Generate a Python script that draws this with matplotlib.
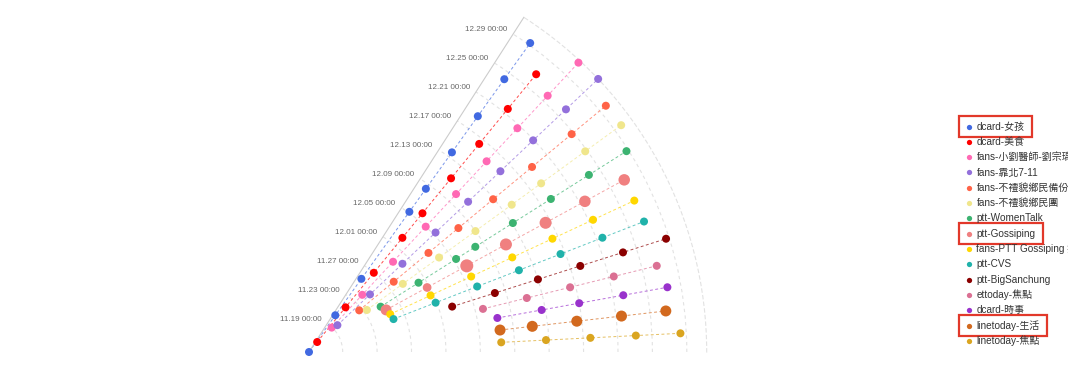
import matplotlib
matplotlib.use("Agg")
import matplotlib.pyplot as plt
import matplotlib.dates as mdates
from matplotlib.lines import Line2D
from matplotlib.patches import Rectangle
from matplotlib.transforms import offset_copy
import numpy as np
import pandas as pd

plt.rcParams['font.family'] = ['Liberation Sans', 'Noto Sans CJK TC', 'DejaVu Sans']

# 各看板 / 粉專
names = ["dcard-女孩", "dcard-美食", "fans-小劉醫師-劉宗瑀", "fans-靠北7-11",
         "fans-不禮貌鄉民備份團", "fans-不禮貌鄉民團", "ptt-WomenTalk", "ptt-Gossiping",
         "fans-PTT Gossiping 批踢踢八卦板", "ptt-CVS", "ptt-BigSanchung", "ettoday-焦點",
         "dcard-時事", "linetoday-生活", "linetoday-焦點"]
colors = ["#4169E1", "#FF0000", "#FF69B4", "#9370DB", "#FF6347", "#F0E68C", "#3CB371",
          "#F08080", "#FFD700", "#20B2AA", "#8B0000", "#DB7093", "#9932CC", "#D2691E",
          "#DAA520"]

# 每個來源的發文時間
dcard_girl = ["2019-11-15 02:00", "2019-11-20 08:00", "2019-11-25 13:00", "2019-12-05 03:00",
              "2019-12-08 10:00", "2019-12-13 15:00", "2019-12-18 19:00", "2019-12-24 02:00",
              "2019-12-29 06:00"]
dcard_food = ["2019-11-16 14:00", "2019-11-21 19:00", "2019-11-26 23:30", "2019-12-02 05:30",
              "2019-12-05 22:00", "2019-12-11 04:00", "2019-12-16 08:00", "2019-12-21 14:00",
              "2019-12-26 19:00"]
fans_doctor = ["2019-11-18 23:00", "2019-11-24 04:00", "2019-11-29 10:00", "2019-12-04 23:45",
               "2019-12-10 04:00", "2019-12-15 09:00", "2019-12-20 15:00", "2019-12-25 19:00",
               "2019-12-31 01:00"]
fans_711 = ["2019-11-19 15:00", "2019-11-24 20:00", "2019-11-30 00:30", "2019-12-05 07:30",
            "2019-12-10 12:30", "2019-12-15 16:30", "2019-12-20 22:00", "2019-12-26 04:00",
            "2019-12-31 07:30"]
fans_rude_backup = ["2019-11-22 16:00", "2019-11-27 21:00", "2019-12-03 03:00", "2019-12-07 15:30",
                    "2019-12-12 21:30", "2019-12-18 18:30", "2019-12-24 18:00", "2019-12-29 22:00"]
fans_rude = ["2019-11-23 09:30", "2019-11-28 13:30", "2019-12-03 18:30", "2019-12-09 00:00",
             "2019-12-14 05:00", "2019-12-18 10:30", "2019-12-24 18:30", "2019-12-29 22:30"]
ptt_womentalk = ["2019-11-24 22:30", "2019-11-30 03:30", "2019-12-05 07:30", "2019-12-07 23:00",
                 "2019-12-13 03:00", "2019-12-18 08:30", "2019-12-23 14:00", "2019-12-28 18:00"]
ptt_gossiping = ["2019-11-25 07:00", "2019-11-30 17:30", "2019-12-05 23:30", "2019-12-11 04:00",
                 "2019-12-16 10:00", "2019-12-21 15:00", "2019-12-26 20:00"]
fans_ptt_gossiping = ["2019-11-25 12:00", "2019-11-30 16:00", "2019-12-05 21:00", "2019-12-11 03:30",
                      "2019-12-16 07:00", "2019-12-21 12:00", "2019-12-26 19:00"]
ptt_cvs = ["2019-11-25 15:00", "2019-11-30 21:00", "2019-12-06 01:30", "2019-12-11 06:30",
           "2019-12-16 11:00", "2019-12-21 16:30", "2019-12-26 21:00"]
ptt_bigsanchung = ["2019-12-02 13:00", "2019-12-07 18:00", "2019-12-13 00:00", "2019-12-18 04:00",
                   "2019-12-23 09:00", "2019-12-28 15:00"]
ettoday_focus = ["2019-12-05 22:00", "2019-12-11 04:00", "2019-12-16 08:30", "2019-12-21 14:00",
                 "2019-12-26 17:30"]
dcard_news = ["2019-12-07 08:00", "2019-12-12 13:30", "2019-12-17 00:00", "2019-12-22 05:00",
              "2019-12-27 10:00"]
linetoday_life = ["2019-12-07 10:30", "2019-12-11 05:00", "2019-12-16 10:00", "2019-12-21 15:30",
                  "2019-12-26 20:00"]
linetoday_focus = ["2019-12-07 11:00", "2019-12-12 16:00", "2019-12-17 20:00", "2019-12-23 03:00",
                   "2019-12-28 07:30"]

# 熱度 (決定點的大小), 只有兩個來源有
ptt_gossiping_heat = [11, 8.7, 13, 12, 12, 11.5, 11.5]
linetoday_life_heat = [11, 11, 11, 11, 11]

highlight = ["dcard-女孩", "ptt-Gossiping", "linetoday-生活"]

series_times = [dcard_girl, dcard_food, fans_doctor, fans_711, fans_rude_backup, fans_rude,
                ptt_womentalk, ptt_gossiping, fans_ptt_gossiping, ptt_cvs, ptt_bigsanchung,
                ettoday_focus, dcard_news, linetoday_life, linetoday_focus]
series_heat = {"ptt-Gossiping": ptt_gossiping_heat, "linetoday-生活": linetoday_life_heat}

W, H = 1068, 381
fig = plt.figure(figsize=(W / 100, H / 100), dpi=100)

# 扇形極座標: 角度 0 ~ 57.3 度, 圓心在 (309, 352)
# matplotlib 會把扇形外框補成正方形再置中, 所以 axes 要用正方形
theta_max = 57.3
R = 397.7
wedge_h = R * np.sin(np.deg2rad(theta_max))
pad = (R - wedge_h) / 2
ax = fig.add_axes([309 / W, (H - 352 - pad) / H, R / W, R / H], projection='polar')
ax.set_thetamin(0)
ax.set_thetamax(theta_max)

all_times = pd.to_datetime(sum(series_times, []))
rmin = mdates.date2num(all_times.min())
rmax = mdates.date2num(all_times.max())
ax.set_ylim(rmin, rmax)

ticks = pd.date_range("2019-11-19", "2019-12-29", freq="4D")
ax.set_yticks(mdates.date2num(ticks))
ax.set_yticklabels([])
ax.set_xticks([])
ax.tick_params(axis='both', length=0)
ax.yaxis.grid(True, color='#e2e2e2', linestyle=(0, (3, 3)), linewidth=0.8)
ax.xaxis.grid(False)
for side in ['start', 'inner']:
    ax.spines[side].set_visible(False)
    ax.spines[side].set_color('none')
ax.spines['polar'].set(color='#e2e2e2', linestyle=(0, (3, 3)), linewidth=0.8)
ax.spines['end'].set(color='#cccccc', linewidth=0.8)

# 半徑軸標籤 (沿著扇形邊)
lab_tr = offset_copy(ax.transData, fig=fig, x=-6, y=4.5, units='dots')
for t in ticks:
    ax.text(np.deg2rad(theta_max), mdates.date2num(t), t.strftime("%m.%d %H:%M"),
            transform=lab_tr, ha='right', va='center', fontsize=5.8, color='#666666')

angle_first, angle_step = 2.88, 3.68
n = len(names)
for i, (name, col, times) in enumerate(zip(names, colors, series_times)):
    th = np.deg2rad(angle_first + angle_step * (n - 1 - i))
    r = mdates.date2num(pd.to_datetime(times))
    theta = np.full(len(r), th)
    if name in series_heat:
        diam = np.array(series_heat[name])
    else:
        diam = np.full(len(r), 8.0)
    ax.plot(theta, r, linestyle=(0, (3, 2.5)), color=col, lw=0.7, alpha=0.7,
            zorder=2, clip_on=False)
    ax.scatter(theta, r, s=(diam * 0.72) ** 2, color=col, linewidths=0,
               zorder=3 + i * 0.01, clip_on=False)

# 右側圖例
dot_x, text_x, y0, dy = 969, 976.5, 126.5, 15.32
legend_texts = {}
for i, (name, col) in enumerate(zip(names, colors)):
    y = 1 - (y0 + dy * i) / H
    fig.add_artist(Line2D([dot_x / W], [y], marker='o', ms=3.8, color=col,
                          markeredgewidth=0, transform=fig.transFigure))
    legend_texts[name] = fig.text(text_x / W, y, name, fontsize=7.2, color='#333333',
                                  ha='left', va='center')

# 標示框
fig.canvas.draw()
renderer = fig.canvas.get_renderer()
for name in highlight:
    bb = legend_texts[name].get_window_extent(renderer)
    yc = (bb.y0 + bb.y1) / 2
    x0, x1 = dot_x - 10, bb.x1 + 7
    fig.add_artist(Rectangle((x0 / W, (yc - 10.5) / H), (x1 - x0) / W, 21 / H,
                             transform=fig.transFigure, fill=False,
                             edgecolor='#E2382A', linewidth=1.6))

fig.savefig("out.png", dpi=100)
